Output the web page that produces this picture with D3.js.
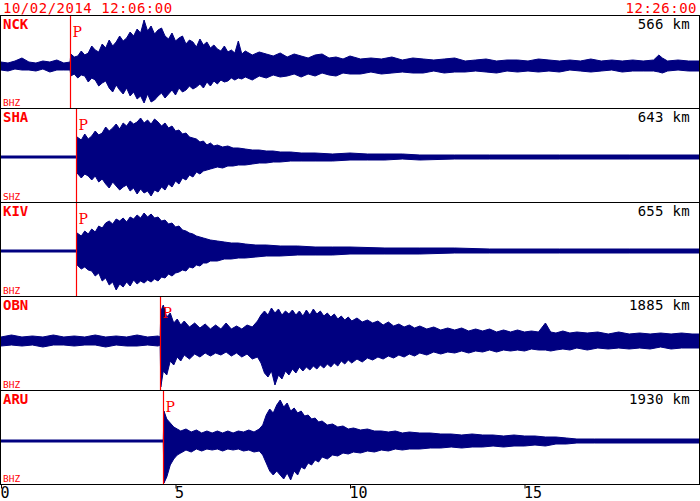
<!DOCTYPE html>
<html><head><meta charset="utf-8">
<script src="https://cdn.jsdelivr.net/npm/d3@7"></script>
<style>html,body{margin:0;padding:0;background:#fff}svg{display:block}</style>
</head><body>
<svg id="c" width="700" height="501"></svg>
<script>
// ---- data ----
const startTime = "10/02/2014 12:06:00";
const endTime = "12:26:00";
const stations = ["NCK", "SHA", "KIV", "OBN", "ARU"];
const channels = ["BHZ", "SHZ", "BHZ", "BHZ", "BHZ"];
const distancesKm = [566, 643, 655, 1885, 1930];
const pArrivalMin = [2.0, 2.18, 2.18, 4.58, 4.67];
const dcOffset = [-4.5, -2, -2, 2, -4];
const xTicks = [0, 5, 10, 15];
// envelopes: [minute, upper amplitude, lower amplitude]
const envNCK = [[0,4,4],[0.2,3,5],[0.4,5,3],[0.6,8,4],[0.8,4,4],[1.0,3,5],[1.2,5,3],[1.4,4,6],[1.6,6,4],[1.8,3,4],[1.98,4,4],
[2.0,12,10],[2.1,9,8],[2.2,10,12],[2.3,15,9],[2.4,11,10],[2.5,13,16],[2.6,20,12],[2.7,16,14],[2.8,14,20],[2.9,22,17],[3.0,18,15],[3.1,26,22],[3.2,20,26],[3.3,24,19],[3.4,30,24],[3.5,25,28],[3.6,28,22],[3.7,34,30],[3.8,30,26],[3.9,37,33],[4.0,33,30],[4.1,46,37],[4.2,35,28],[4.3,40,36],[4.4,32,34],[4.5,36,30],[4.6,38,27],[4.7,30,32],[4.8,27,28],[4.9,33,24],[5.0,25,29],[5.1,28,22],[5.2,30,26],[5.3,22,24],[5.4,26,20],[5.5,24,23],[5.6,19,21],[5.7,27,18],[5.8,21,22],[5.9,24,16],[6.0,18,20],[6.1,21,15],[6.2,17,18],[6.3,15,14],[6.4,20,16],[6.5,14,15],[6.6,16,12],[6.7,13,14],[6.8,25,12],[6.9,12,13],[7.0,15,11],[7.2,11,14],[7.4,14,10],[7.6,12,12],[7.8,10,9],[8.0,13,11],
[8.2,9,10],[8.4,12,8],[8.6,10,11],[8.8,8,8],[9.0,11,10],[9.2,12,7],[9.4,8,9],[9.6,9,10],[9.8,7,7],[10.0,10,8],[10.3,7,8],[10.6,8,6],[10.9,7,8],[11.2,9,7],[11.5,6,6],[11.8,8,7],[12.1,7,7],[12.4,6,5],[12.7,7,7],[13.0,8,6],[13.3,5,6],[13.6,6,5],[13.9,7,6],[14.2,5,7],[14.5,6,5],[14.8,6,6],[15.1,5,5],[15.4,7,6],[15.7,6,5],[16.0,5,6],[16.3,6,4],[16.6,5,5],[16.9,7,6],[17.2,5,5],[17.5,6,4],[17.8,5,6],[18.1,6,5],[18.4,5,5],[18.7,6,5],[18.85,11,6],[18.95,8,7],[19.1,5,5],[19.4,6,4],[19.7,5,5],[20,5,5]];
const envSHA = [[0,1,1],[2.17,1,1],
[2.18,20,16],[2.3,17,21],[2.4,23,17],[2.5,18,19],[2.6,21,23],[2.7,26,19],[2.8,22,25],[2.9,24,22],[3.0,30,27],[3.1,26,31],[3.2,29,25],[3.3,33,29],[3.4,28,33],[3.5,34,30],[3.6,31,28],[3.7,36,34],[3.8,33,31],[3.9,35,37],[4.0,39,32],[4.1,34,36],[4.2,37,34],[4.3,33,39],[4.4,38,33],[4.5,35,35],[4.6,31,30],[4.7,34,33],[4.8,29,27],[4.9,31,30],[5.0,26,24],[5.1,27,27],[5.2,23,21],[5.3,24,23],[5.4,20,18],[5.5,19,20],[5.6,18,15],[5.7,15,17],[5.8,16,14],[5.9,12,13],[6.0,14,12],[6.1,11,11],[6.2,12,10],[6.35,10,11],[6.5,11,9],[6.65,9,9],[6.8,9,8],[7.0,8,8],[7.2,7,7],[7.4,7,6],[7.6,6,6],[7.8,6,5],[8.0,5,5],[8.3,5,4],[8.6,4,4],[9.0,4,4],[9.5,3,4],[10,4,3],[10.5,3,3],[11,3,3],[11.5,3,2],[12,2,3],[13,2,2],[14,2,2],[16,2,2],[18,2,2],[20,2,2]];
const envKIV = [[0,1,1],[2.17,1,1],
[2.18,18,14],[2.3,15,18],[2.4,20,16],[2.5,17,19],[2.6,22,20],[2.7,19,25],[2.8,25,22],[2.9,23,30],[3.0,28,27],[3.1,30,34],[3.2,27,31],[3.3,32,39],[3.4,30,33],[3.5,33,36],[3.6,29,31],[3.7,34,35],[3.8,32,29],[3.9,36,33],[4.0,33,30],[4.1,38,32],[4.2,34,29],[4.3,37,31],[4.4,33,28],[4.5,34,30],[4.6,30,26],[4.7,31,27],[4.8,27,23],[4.9,28,25],[5.0,24,22],[5.1,25,21],[5.2,21,19],[5.3,20,20],[5.4,18,16],[5.5,17,17],[5.6,15,14],[5.7,14,15],[5.8,13,12],[5.9,12,12],[6.0,11,10],[6.2,10,10],[6.4,9,8],[6.6,8,8],[6.8,8,7],[7.0,7,7],[7.3,6,6],[7.6,6,5],[8.0,5,5],[8.5,5,4],[9,4,4],[9.5,4,4],[10,4,3],[11,3,3],[12,3,3],[13,3,2],[14,2,2],[16,2,2],[18,2,2],[20,2,2]];
const envOBN = [[0,4,5],[0.3,6,4],[0.6,4,5],[0.9,5,4],[1.2,4,6],[1.5,6,4],[1.8,4,4],[2.1,5,5],[2.4,4,4],[2.7,6,4],[3.0,4,6],[3.3,5,4],[3.6,4,5],[3.9,6,5],[4.2,4,4],[4.5,5,5],[4.56,4,4],
[4.58,30,46],[4.65,36,30],[4.75,24,34],[4.85,28,20],[4.95,18,24],[5.05,22,16],[5.15,16,20],[5.25,20,14],[5.4,14,18],[5.55,18,13],[5.7,13,16],[5.85,17,12],[6.0,12,15],[6.15,16,12],[6.3,12,14],[6.45,18,11],[6.6,12,15],[6.75,15,12],[6.9,12,16],[7.05,16,13],[7.2,14,18],[7.35,20,16],[7.45,26,22],[7.55,30,32],[7.65,26,36],[7.75,33,30],[7.85,28,44],[7.95,32,34],[8.05,26,38],[8.15,30,30],[8.25,27,34],[8.35,31,28],[8.45,26,32],[8.55,30,26],[8.65,25,30],[8.75,31,26],[8.85,26,29],[8.95,32,25],[9.05,27,28],[9.15,30,24],[9.25,25,27],[9.35,28,23],[9.45,24,26],[9.55,27,22],[9.65,22,25],[9.75,25,20],[9.85,21,23],[9.95,24,19],[10.05,20,22],[10.2,23,18],[10.35,19,21],[10.5,21,17],[10.65,18,19],[10.8,20,16],[10.95,16,18],[11.1,19,15],[11.25,15,17],[11.4,17,14],[11.55,14,16],[11.7,16,13],[11.85,13,15],[12.0,15,12],[12.2,12,14],[12.4,14,11],[12.6,11,13],[12.8,13,11],[13.0,11,12],[13.2,13,10],[13.4,10,12],[13.6,12,10],[13.8,10,11],[14.0,12,9],[14.2,9,11],[14.4,11,9],[14.6,9,10],[14.8,11,9],[15.0,9,10],[15.2,10,8],[15.4,9,9],[15.6,18,9],[15.75,9,10],[15.9,8,9],[16.1,10,8],[16.3,8,9],[16.5,9,7],[16.8,8,9],[17.1,9,7],[17.4,7,8],[17.7,9,7],[18.0,7,8],[18.3,8,7],[18.6,7,8],[18.9,8,6],[19.2,7,8],[19.5,8,7],[19.8,7,7],[20,7,7]];
const envARU = [[0,1,1],[4.65,1,1],
[4.67,30,42],[4.75,22,36],[4.85,18,24],[4.95,14,18],[5.05,12,14],[5.15,10,12],[5.3,12,9],[5.45,9,11],[5.6,11,8],[5.75,8,10],[5.9,10,8],[6.05,8,9],[6.2,10,8],[6.35,8,10],[6.5,10,8],[6.65,8,9],[6.8,10,8],[6.95,9,10],[7.1,11,9],[7.25,9,11],[7.4,12,10],[7.5,16,14],[7.6,26,22],[7.7,32,30],[7.8,28,34],[7.9,36,30],[8.0,41,34],[8.1,34,38],[8.2,38,32],[8.3,30,39],[8.4,33,30],[8.5,28,34],[8.6,30,26],[8.7,25,28],[8.8,26,22],[8.9,22,24],[9.0,23,19],[9.1,19,21],[9.2,20,16],[9.35,16,18],[9.5,17,14],[9.65,14,15],[9.8,15,12],[9.95,12,13],[10.1,13,11],[10.3,11,12],[10.5,12,10],[10.7,10,11],[10.9,10,9],[11.1,9,10],[11.3,10,8],[11.5,8,9],[11.7,9,8],[12.0,8,8],[12.3,8,7],[12.6,7,7],[12.9,7,6],[13.2,6,7],[13.5,7,6],[13.8,6,6],[14.1,6,5],[14.4,5,6],[14.7,6,5],[15.0,5,5],[15.3,5,4],[15.6,4,5],[15.9,4,3],[16.2,3,3],[16.5,2,2],[17,2,2],[20,2,2]];
const envelopes = [envNCK, envSHA, envKIV, envOBN, envARU];

// ---- layout ----
const W = 700, H = 501;
const sepY = [15, 108, 202, 296, 390, 484];
const navy = "#000080", red = "#ff0000";
const mono = "'DejaVu Sans Mono', monospace";
const svg = d3.select("#c");

const x = d3.scaleLinear().domain([0, 20]).range([1, 699]);

// header
svg.append("text").attr("x", 3).attr("y", 12.5).attr("fill", red)
  .attr("font-family", mono).attr("font-size", 14).attr("letter-spacing", 0.5).text(startTime);
svg.append("text").attr("x", 697).attr("y", 12.5).attr("fill", red).attr("text-anchor", "end")
  .attr("font-family", mono).attr("font-size", 14).attr("letter-spacing", 0.5).text(endTime);

stations.forEach((st, i) => {
  const top = sepY[i], bot = sepY[i + 1];
  const y = d3.scaleLinear().domain([-47, 47]).range([(top + bot) / 2 + 47, (top + bot) / 2 - 47]);
  const g = svg.append("g");
  const env = envelopes[i];
  const area = d3.area()
    .x(d => x(d[0]))
    .y0(d => y(dcOffset[i] - d[2]))
    .y1(d => y(dcOffset[i] + d[1]));
  g.append("path").datum(env).attr("d", area)
    .attr("fill", navy).attr("stroke", navy).attr("stroke-width", 1).attr("stroke-linejoin", "miter");
  // P line
  const px = Math.round(x(pArrivalMin[i])) - 0.5;
  g.append("line").attr("x1", px).attr("x2", px).attr("y1", top + 1).attr("y2", bot)
    .attr("stroke", red).attr("stroke-width", 1.2);
  g.append("text").attr("x", px + 2).attr("y", top + 22).attr("fill", red)
    .attr("font-family", "'DejaVu Serif', serif").attr("font-size", 14).text("P");
  // labels
  g.append("text").attr("x", 3).attr("y", top + 14).attr("fill", red)
    .attr("font-family", mono).attr("font-weight", "bold").attr("font-size", 14).text(st);
  g.append("text").attr("x", 690).attr("y", top + 13.5).attr("fill", "#000").attr("text-anchor", "end")
    .attr("font-family", mono).attr("font-size", 14).attr("letter-spacing", 0.3).text(distancesKm[i] + " km");
  g.append("text").attr("x", 3).attr("y", bot - 2).attr("fill", red)
    .attr("font-family", mono).attr("font-size", 9.5).text(channels[i]);
});

// separators and frame
sepY.forEach(v => {
  svg.append("line").attr("x1", 0).attr("x2", W).attr("y1", v + 0.5).attr("y2", v + 0.5)
    .attr("stroke", "#000").attr("stroke-width", 1);
});
svg.append("line").attr("x1", 0.5).attr("x2", 0.5).attr("y1", 15).attr("y2", 484).attr("stroke", "#000");
svg.append("line").attr("x1", 699.5).attr("x2", 699.5).attr("y1", 15).attr("y2", 484).attr("stroke", "#000");

// bottom axis
const axisG = svg.append("g").attr("transform", "translate(0,484.5)");
const axis = d3.axisBottom(x).tickValues(xTicks).tickSize(4).tickFormat(d3.format("d"));
axisG.call(axis);
axisG.select(".domain").remove();
axisG.selectAll(".tick line").attr("stroke", "#000");
axisG.selectAll(".tick text").attr("text-anchor", "start").attr("dx", -1).attr("y", 3)
  .attr("font-family", mono).attr("font-size", 15).attr("fill", "#000");
</script>
</body></html>
